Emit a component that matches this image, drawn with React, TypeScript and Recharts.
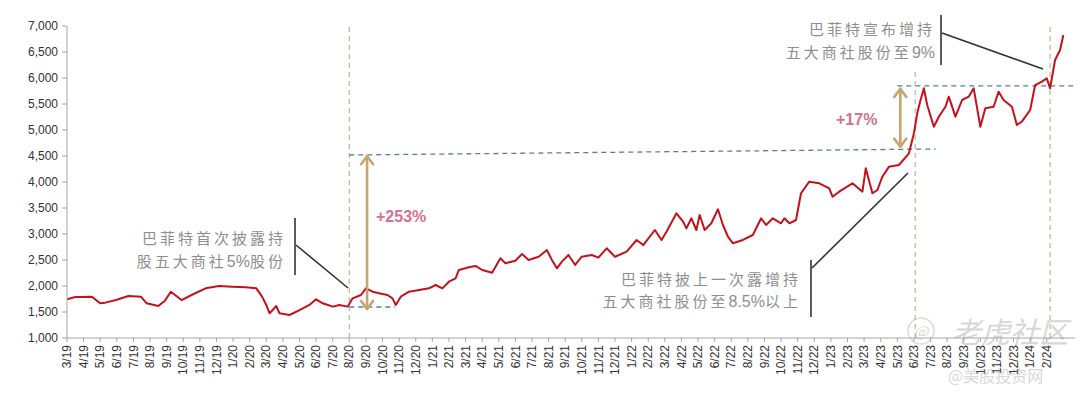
import React from 'react';
import { LineChart, Line, XAxis, YAxis, ReferenceLine } from 'recharts';

const monthLabels = [
  '3/19', '4/19', '5/19', '6/19', '7/19', '8/19', '9/19', '10/19', '11/19', '12/19',
  '1/20', '2/20', '3/20', '4/20', '5/20', '6/20', '7/20', '8/20', '9/20', '10/20', '11/20', '12/20',
  '1/21', '2/21', '3/21', '4/21', '5/21', '6/21', '7/21', '8/21', '9/21', '10/21', '11/21', '12/21',
  '1/22', '2/22', '3/22', '4/22', '5/22', '6/22', '7/22', '8/22', '9/22', '10/22', '11/22', '12/22',
  '1/23', '2/23', '3/23', '4/23', '5/23', '6/23', '7/23', '8/23', '9/23', '10/23', '11/23', '12/23',
  '1/24', '2/24',
];

// position in months since 3/19
const pointMonths = [
  0, 0.5, 1.0, 1.5, 2.0, 2.3, 2.95, 3.7, 4.45, 4.8, 5.5, 5.9, 6.25, 6.9, 7.5, 8.35, 9.15, 9.95,
  10.75, 11.4, 11.75, 12.0, 12.2, 12.6, 12.8, 13.4, 14.0, 14.6, 15.0, 15.4, 16.0,
  16.4, 16.9, 17.2, 17.7, 18.0, 18.4, 18.8, 19.3, 19.6, 19.8, 20.1, 20.6, 21.2, 21.8, 22.2, 22.6,
  23.0, 23.4, 23.6, 24.2, 24.6, 25.0, 25.6, 26.1, 26.4, 27.0, 27.4, 27.8, 28.4, 28.9, 29.2, 29.5,
  29.8, 30.2, 30.6, 31.0, 31.6, 32.0, 32.5,
  33.0, 33.7, 34.3, 34.7, 35.4, 35.8, 36.1, 36.7, 37.1, 37.3, 37.6, 37.9, 38.1, 38.4, 38.8, 39.2,
  39.5, 39.8, 40.1, 40.7, 41.3, 41.8, 42.1, 42.5, 43.0, 43.2, 43.5, 43.9, 44.2, 44.7, 45.3, 45.9,
  46.1, 46.5, 47.3, 47.9, 48.1, 48.5, 48.8, 49.1, 49.5, 50.1, 50.7, 51.0, 51.2, 51.4, 51.6, 51.8,
  52.2, 52.5, 52.9, 53.1, 53.5, 53.9, 54.3, 54.6, 55.0, 55.3, 55.8, 56.1, 56.4, 56.9, 57.2, 57.5,
  58.0, 58.3, 58.7, 59.0, 59.2, 59.5, 59.8, 60.0,
];

const pointValues = [
  1744, 1790, 1790, 1795, 1667, 1680, 1730, 1808, 1795, 1667, 1615, 1718, 1890, 1730, 1827, 1955, 2000, 1987,
  1975, 1955, 1795, 1635, 1475, 1615, 1475, 1442, 1538, 1635, 1744, 1667, 1603,
  1635, 1603, 1763, 1827, 1955, 1890, 1860, 1827, 1763, 1635, 1795, 1890, 1923, 1955, 2019, 1955,
  2083, 2148, 2308, 2360, 2385, 2308, 2256, 2533, 2437, 2487, 2615, 2500, 2563, 2692, 2500, 2340,
  2468, 2596, 2405, 2563, 2596, 2545, 2725,
  2563, 2660, 2885, 2788, 3077, 2885, 3044, 3398, 3237, 3109, 3302, 3077, 3365, 3077, 3206, 3475,
  3173, 2948, 2821, 2885, 2981, 3302, 3173, 3302, 3206, 3302, 3206, 3269, 3783, 4006, 3975, 3879,
  3717, 3814, 3975, 3814, 4263, 3783, 3846, 4102, 4295, 4327, 4552, 4937, 5321, 5577, 5802, 5481,
  5063, 5256, 5448, 5641, 5256, 5577, 5641, 5802, 5063, 5417, 5448, 5737, 5577, 5448, 5096, 5160,
  5385, 5865, 5930, 5994, 5802, 6346, 6538, 6827,
];

const yTicks = [1000, 1500, 2000, 2500, 3000, 3500, 4000, 4500, 5000, 5500, 6000, 6500, 7000];

// annotation anchors (months / index values)
const eventMonths = [17, 51.08, 59.2];
const baseLow = 1596;
const baseMidStart = 4519;
const baseMidEnd = 4635;
const baseHigh = 5850;
const arrow1 = { t: 18.07, from: 1540, to: 4515 };
const arrow2 = { t: 50.18, from: 4660, to: 5810 };

const data = pointMonths.map((t, i) => ({ t, v: pointValues[i] }));
const monthTicks = monthLabels.map((_, i) => i);

const FONT = '"Liberation Sans", Arial, sans-serif';
const CJK = '"Noto Sans CJK SC", "Liberation Sans", sans-serif';

const XTick = (props: any) => {
  const { x, y, payload } = props;
  const ax = x;
  const ay = y + 1;
  return (
    <text
      x={ax}
      y={ay}
      transform={`rotate(-90, ${ax}, ${ay})`}
      textAnchor="end"
      dy="0.35em"
      fontSize={12}
      fontFamily={FONT}
      fill="#333"
    >
      {monthLabels[payload.value]}
    </text>
  );
};

const ArrowShape = (p: any) => {
  const { x1, y1, x2, y2 } = p;
  const top = Math.min(y1, y2);
  const bot = Math.max(y1, y2);
  const x = x1;
  const w = 6;
  const h = 9;
  return (
    <g stroke="#c9a46c" strokeWidth={2.6} fill="none" strokeLinecap="round" strokeLinejoin="round">
      <line x1={x} y1={top + 1} x2={x2} y2={bot - 1} />
      <polyline points={`${x - w},${top + h} ${x},${top + 1} ${x + w},${top + h}`} />
      <polyline points={`${x - w},${bot - h} ${x},${bot - 1} ${x + w},${bot - h}`} />
    </g>
  );
};

const vDash = '#bdbd98';
const hDash = '#55809a';

const Lat = ({ children }: { children: React.ReactNode }) => (
  <tspan fontFamily={FONT} letterSpacing={0} fontSize={16}>{children}</tspan>
);

export default function App() {
  return (
    <div style={{ position: 'absolute', left: 0, top: 0, width: 1080, height: 398, background: '#fff' }}>
      <LineChart width={1080} height={398} data={data} margin={{ top: 26, right: 5, bottom: 0, left: 0 }}>
        <XAxis
          dataKey="t"
          type="number"
          domain={[0, 60.7]}
          ticks={monthTicks}
          interval={0}
          tick={<XTick />}
          tickSize={4}
          tickMargin={2}
          height={60}
          axisLine={{ stroke: '#a6a6a6' }}
          tickLine={{ stroke: '#a6a6a6' }}
          allowDataOverflow
        />
        <YAxis
          type="number"
          domain={[1000, 7000]}
          ticks={yTicks}
          interval={0}
          width={67}
          tickSize={5}
          tickMargin={4}
          axisLine={{ stroke: '#a6a6a6' }}
          tickLine={{ stroke: '#a6a6a6' }}
          tick={{ fontSize: 12, fontFamily: FONT, fill: '#333' }}
          tickFormatter={(v: number) => v.toLocaleString('en-US')}
        />
        <ReferenceLine x={eventMonths[0]} stroke={vDash} strokeWidth={1.3} strokeDasharray="5 4" />
        <ReferenceLine
          segment={[{ x: eventMonths[1], y: 1000 }, { x: eventMonths[1], y: 6115 }]}
          stroke={vDash}
          strokeWidth={1.3}
          strokeDasharray="5 4"
        />
        <ReferenceLine x={eventMonths[2]} stroke={vDash} strokeWidth={1.3} strokeDasharray="5 4" />
        <ReferenceLine
          segment={[{ x: eventMonths[0], y: baseLow }, { x: 19.75, y: baseLow }]}
          stroke={hDash}
          strokeWidth={1.3}
          strokeDasharray="5 4"
        />
        <ReferenceLine
          segment={[{ x: eventMonths[0], y: baseMidStart }, { x: 52.3, y: baseMidEnd }]}
          stroke={hDash}
          strokeWidth={1.3}
          strokeDasharray="5 4"
        />
        <ReferenceLine
          segment={[{ x: 50.0, y: baseHigh }, { x: 60.7, y: baseHigh }]}
          stroke={hDash}
          strokeWidth={1.3}
          strokeDasharray="5 4"
        />
        <Line
          type="linear"
          dataKey="v"
          stroke="#c4121c"
          strokeWidth={2}
          strokeLinejoin="round"
          dot={false}
          isAnimationActive={false}
        />
        <ReferenceLine
          segment={[{ x: arrow1.t, y: arrow1.to }, { x: arrow1.t, y: arrow1.from }]}
          shape={ArrowShape}
        />
        <ReferenceLine
          segment={[{ x: arrow2.t, y: arrow2.to }, { x: arrow2.t, y: arrow2.from }]}
          shape={ArrowShape}
        />
      </LineChart>
      <svg
        width={1080}
        height={398}
        style={{ position: 'absolute', left: 0, top: 0, pointerEvents: 'none' }}
      >
        <g fontFamily={CJK} fontSize={15} fill="#8e8e8e" textAnchor="end" letterSpacing={3}>
          <text x={286} y={244}>巴菲特首次披露持</text>
          <text x={286} y={267}>股五大商社<Lat>5%</Lat>股份</text>
          <text x={801} y={285}>巴菲特披上一次露增持</text>
          <text x={801} y={307}>五大商社股份至<Lat>8.5%</Lat>以上</text>
          <text x={935} y={35}>巴菲特宣布增持</text>
          <text x={935} y={58}>五大商社股份至<Lat>9%</Lat></text>
        </g>
        <g stroke="#333" strokeWidth={1.6}>
          <line x1={295} y1={218} x2={295} y2={275} />
          <line x1={296} y1={245} x2={348} y2={288} />
          <line x1={811} y1={260} x2={811} y2={317} />
          <line x1={812} y1={268} x2={908} y2={173} />
          <line x1={941} y1={15} x2={941} y2={65} />
          <line x1={942} y1={33} x2={1043} y2={69} />
        </g>
        <g fontFamily={FONT} fontSize={16} fontWeight="bold" fill="#d4718f">
          <text x={376} y={222}>+253%</text>
          <text x={836} y={125}>+17%</text>
        </g>
        <g opacity={0.45} fill="none" stroke="#b0b0b0">
          <circle cx={921} cy={331} r={13} strokeWidth={1.5} />
        </g>
        <g opacity={0.45} fill="#a8a8a8" fontFamily={CJK}>
          <text x={914} y={337} fontSize={15} fontStyle="italic">@</text>
          <text x={952} y={343} fontSize={29} fontStyle="italic">老虎社区</text>
          <text x={948} y={382} fontSize={16}>@美股投资网</text>
        </g>
      </svg>
    </div>
  );
}
